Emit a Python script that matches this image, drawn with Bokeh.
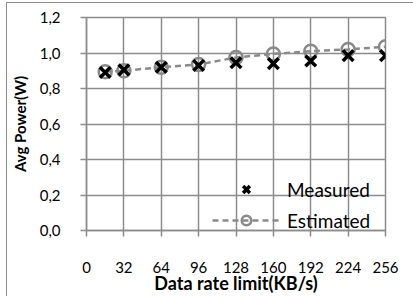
from bokeh.plotting import figure
from bokeh.models import (Range1d, FixedTicker, CustomJSTickFormatter, Legend, LegendItem,
                          ColumnDataSource)
from bokeh.embed import file_html
from bokeh.resources import INLINE

# ---- data ----
rate_limit = [16, 32, 64, 96, 128, 160, 192, 224, 256]
measured = [0.89, 0.905, 0.92, 0.93, 0.945, 0.94, 0.955, 0.985, 0.985]
estimated = [0.895, 0.90, 0.92, 0.935, 0.975, 0.995, 1.01, 1.02, 1.035]
x_ticks = [0, 32, 64, 96, 128, 160, 192, 224, 256]
y_ticks = [0.0, 0.2, 0.4, 0.6, 0.8, 1.0, 1.2]

GRID = "#8c8c8c"
EST = "#8a8a8a"
FONT = "Lato"

src = ColumnDataSource(dict(x=rate_limit, m=measured, e=estimated))

p = figure(frame_width=299, frame_height=213,
           min_border_left=60, min_border_right=28, min_border_top=14, min_border_bottom=66,
           x_range=Range1d(0, 256), y_range=Range1d(0, 1.2),
           output_backend="svg", toolbar_location=None,
           styles={"margin-left": "6px", "margin-top": "2px",
                   "border-left": "1px solid #8c8c8c", "border-top": "1px solid #8c8c8c"})
p.background_fill_color = None
p.border_fill_color = "white"
p.outline_line_color = GRID
p.outline_line_width = 1.5

# axes
for ax in (p.xaxis[0], p.yaxis[0]):
    ax.axis_line_color = GRID
    ax.axis_line_width = 1.5
    ax.major_tick_line_color = GRID
    ax.major_tick_line_width = 1.5
    ax.major_tick_out = 6
    ax.major_tick_in = 0
    ax.minor_tick_line_color = None
    ax.major_label_text_font = FONT
    ax.major_label_text_font_size = "15px"
    ax.major_label_text_color = "black"
    ax.axis_label_text_font = FONT
    ax.axis_label_text_font_style = "bold"
    ax.axis_label_text_color = "black"

p.xaxis.axis_label_text_font_size = "18px"
p.yaxis.axis_label_text_font_size = "15px"
p.xaxis.ticker = FixedTicker(ticks=x_ticks)
p.yaxis.ticker = FixedTicker(ticks=y_ticks)
p.yaxis.formatter = CustomJSTickFormatter(code="return tick.toFixed(1).replace('.', ',');")
p.xaxis.axis_label = "Data rate limit(KB/s)"
p.yaxis.axis_label = "Avg Power(W)"
p.xaxis.major_label_standoff = 25
p.xaxis.axis_label_standoff = -4
p.yaxis.major_label_standoff = 20
p.yaxis.axis_label_standoff = 8

p.xgrid.grid_line_color = GRID
p.ygrid.grid_line_color = GRID
p.xgrid.grid_line_width = 1.5
p.ygrid.grid_line_width = 1.5

# series
ln = p.line("x", "e", source=src, line_color=EST, line_width=2.5, line_dash="6 4")
cr = p.scatter("x", "e", source=src, marker="circle", size=13, fill_color=None,
               line_color=EST, line_width=2.5)
xr = p.scatter("x", "m", source=src, marker="x", size=15, line_color="black", line_width=3.5)

legend = Legend(items=[LegendItem(label="Measured", renderers=[xr]),
                       LegendItem(label="Estimated", renderers=[ln, cr])],
                location=(126, -2), glyph_width=68, glyph_height=24, spacing=7,
                padding=0, margin=0, label_standoff=7,
                background_fill_alpha=0, border_line_alpha=0,
                label_text_font=FONT, label_text_font_size="19px", label_text_color="black")
p.add_layout(legend, "center")

open("out.html", "w").write(file_html(p, INLINE))
